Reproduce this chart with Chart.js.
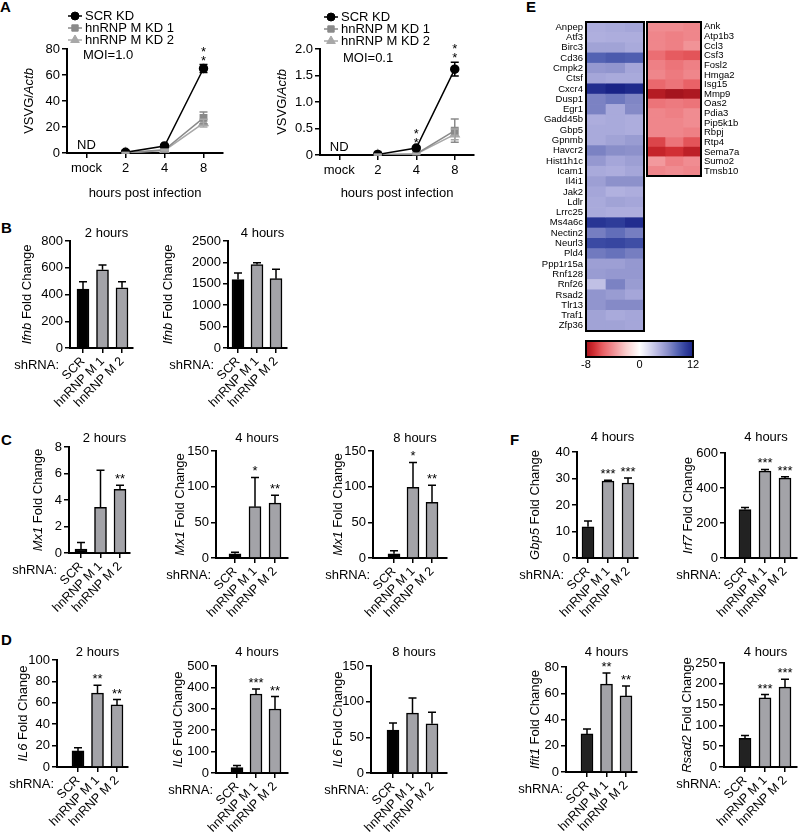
<!DOCTYPE html>
<html>
<head>
<meta charset="utf-8">
<script src="https://cdn.jsdelivr.net/npm/chart.js@4.4.1/dist/chart.umd.min.js"></script>
<style>
  body { margin: 0; width: 800px; height: 834px; position: relative; overflow: hidden; background: #fff; font-family: Arial, "Liberation Sans", sans-serif; }
  canvas { position: absolute; }
  .tag { position: absolute; font-weight: bold; font-size: 15px; line-height: 15px; }
</style>
</head>
<body>
<div class="tag" style="left:0px;top:-1px">A</div>
<div class="tag" style="left:1px;top:220px">B</div>
<div class="tag" style="left:1px;top:432px">C</div>
<div class="tag" style="left:1px;top:632px">D</div>
<div class="tag" style="left:526px;top:-1px">E</div>
<div class="tag" style="left:510px;top:432px">F</div>
<script>
const FONT = 'Arial, "Liberation Sans", Helvetica, sans-serif';
Chart.defaults.font.family = FONT;
Chart.defaults.color = '#000';
Chart.defaults.animation = false;

// ---- panel A: VSVG / Actb ----
const hours = ['mock', '2', '4', '8'];
const kdNames = ['SCR KD', 'hnRNP M KD 1', 'hnRNP M KD 2'];
const moi1Scr = [null, 0.5, 5.4, 65];
const moi1ScrSd = [null, 0.4, 0.8, 3];
const moi1Kd1 = [null, 0.1, 2.5, 27];
const moi1Kd1Sd = [null, 0.3, 0.6, 4.5];
const moi1Kd2 = [null, 0.1, 2, 23];
const moi1Kd2Sd = [null, 0.3, 0.5, 3];
const moi1Sig = [null, null, null, '*\n*'];
const moi01Scr = [null, 0.01, 0.13, 1.62];
const moi01ScrSd = [null, 0.02, 0.03, 0.13];
const moi01Kd1 = [null, 0.005, 0.02, 0.46];
const moi01Kd1Sd = [null, 0.01, 0.01, 0.22];
const moi01Kd2 = [null, 0.005, 0.02, 0.39];
const moi01Kd2Sd = [null, 0.01, 0.01, 0.1];
const moi01Sig = [null, null, '*\n*', '*\n*'];

// ---- panels B, C, D, F: fold change ----
const shLabels = ['SCR', 'hnRNP M 1', 'hnRNP M 2'];
const ifnb2h = [440, 585, 450], ifnb2hSd = [55, 35, 45];
const ifnb4h = [1600, 1950, 1620], ifnb4hSd = [150, 40, 220];
const mx1_2h = [0.3, 3.45, 4.8], mx1_2hSd = [0.5, 2.8, 0.32], mx1_2hSig = ['', '', '**'];
const mx1_4h = [6, 72, 77], mx1_4hSd = [2, 41, 11], mx1_4hSig = ['', '*', '**'];
const mx1_8h = [6, 99, 78], mx1_8hSd = [4, 35, 24], mx1_8hSig = ['', '*', '**'];
const il6_2h = [15, 69, 58], il6_2hSd = [3, 7.5, 5], il6_2hSig = ['', '**', '**'];
const il6_4h = [25, 369, 299], il6_4hSd = [10, 24, 58], il6_4hSig = ['', '***', '**'];
const il6_8h = [60, 84, 69], il6_8hSd = [10, 21, 16], il6_8hSig = ['', '', ''];
const gbp5 = [11.8, 29, 28.3], gbp5Sd = [2.2, 0.3, 1.9], gbp5Sig = ['', '***', '***'];
const irf7 = [277, 496, 456], irf7Sd = [12, 10, 8], irf7Sig = ['', '***', '***'];
const ifit1 = [29, 67, 58], ifit1Sd = [3.8, 8.4, 7.5], ifit1Sig = ['', '**', '**'];
const rsad2 = [69, 166, 192], rsad2Sd = [7, 8, 19], rsad2Sig = ['', '***', '***'];

// ---- panel E: heatmap ----
const leftGenes = ['Anpep','Atf3','Birc3','Cd36','Cmpk2','Ctsf','Cxcr4','Dusp1','Egr1','Gadd45b','Gbp5','Gpnmb','Havcr2','Hist1h1c','Icam1','Il4i1','Jak2','Ldlr','Lrrc25','Ms4a6c','Nectin2','Neurl3','Pld4','Ppp1r15a','Rnf128','Rnf26','Rsad2','Tlr13','Traf1','Zfp36'];
const leftVals = [
  [4.6,4.8,5.0],[4.5,4.6,4.6],[5.2,5.2,4.8],[8.6,9.0,8.8],[5.8,6.0,5.0],[5.0,4.8,4.8],
  [11.4,12,11.6],[7.0,7.5,6.8],[7.0,4.8,6.6],[4.6,4.8,4.6],[4.8,4.8,4.6],[4.8,5.2,5.6],
  [7.0,6.4,6.2],[5.8,5.0,5.4],[4.8,4.6,5.0],[5.4,6.2,6.2],[5.0,4.4,4.6],[4.8,5.2,5.0],
  [4.8,4.6,4.6],[11.0,10.6,11.4],[7.2,8.0,7.2],[9.8,10.0,9.6],[7.4,7.8,7.2],[5.4,5.4,5.8],
  [5.6,5.8,5.8],[3.6,7.0,5.6],[6.0,5.6,5.0],[6.0,6.6,6.6],[5.2,4.8,5.0],[5.2,5.2,5.0]
];
const rightGenes = ['Ank','Atp1b3','Ccl3','Csf3','Fosl2','Hmga2','Isg15','Mmp9','Oas2','Pdia3','Pip5k1b','Rbpj','Rtp4','Sema7a','Sumo2','Tmsb10'];
const rightVals = [
  [-4.0,-4.0,-4.2],[-4.2,-4.4,-4.2],[-4.2,-4.4,-3.8],[-5.0,-5.6,-5.8],[-4.4,-4.8,-4.4],
  [-4.2,-4.6,-4.2],[-5.2,-4.8,-5.4],[-7.6,-8.0,-7.8],[-4.8,-4.6,-4.8],[-4.2,-4.4,-4.0],
  [-4.2,-4.2,-4.0],[-4.2,-4.2,-4.4],[-6.2,-4.8,-5.8],[-7.2,-6.8,-7.4],[-3.6,-4.4,-4.0],[-4.2,-4.0,-4.2]
];
const cbTicks = [-8, 0, 12];

// colour scale for the heatmap
const posStops = [[0,[255,255,255]],[2,[222,222,242]],[4.5,[175,175,222]],[6.5,[135,140,200]],[8.5,[85,100,180]],[10,[55,70,160]],[12,[25,35,135]]];
const negStops = [[0,[255,255,255]],[2,[250,205,205]],[4,[240,140,145]],[5.5,[232,95,100]],[7,[205,40,45]],[8,[165,20,30]]];
function heatColor(v) {
  const stops = v < 0 ? negStops : posStops;
  const a = Math.abs(v);
  for (let i = 1; i < stops.length; i++) {
    if (a <= stops[i][0] || i === stops.length - 1) {
      const [v0, c0] = stops[i - 1], [v1, c1] = stops[i];
      const t = Math.min(1, Math.max(0, (a - v0) / (v1 - v0)));
      return 'rgb(' + c0.map((c, k) => Math.round(c + (c1[k] - c) * t)).join(',') + ')';
    }
  }
}

function makeCanvas(x, y, w, h) {
  const c = document.createElement('canvas');
  c.width = w; c.height = h;
  c.style.left = x + 'px'; c.style.top = y + 'px';
  document.body.appendChild(c);
  return c;
}

// error bars, stars and extra labels
const deco = {
  id: 'deco',
  afterDatasetsDraw(chart, args, o) {
    const ys = chart.scales.y;
    const ctx = chart.ctx;
    ctx.save();
    chart.data.datasets.forEach((ds, di) => {
      if (!ds.sd) return;
      const meta = chart.getDatasetMeta(di);
      meta.data.forEach((el, i) => {
        const raw = ds.data[i];
        const v = raw !== null && typeof raw === 'object' ? raw.y : raw;
        const e = ds.sd[i];
        if (v == null || e == null) return;
        const x = el.x;
        const yt = ys.getPixelForValue(v + e);
        const yb = o.twoSided ? ys.getPixelForValue(Math.max(v - e, 0)) : ys.getPixelForValue(v);
        const cw = o.cap || 4;
        ctx.strokeStyle = ds.errColor || '#000';
        ctx.lineWidth = 1.5;
        ctx.beginPath();
        ctx.moveTo(x, yt); ctx.lineTo(x, yb);
        ctx.moveTo(x - cw, yt); ctx.lineTo(x + cw, yt);
        if (o.twoSided) { ctx.moveTo(x - cw, yb); ctx.lineTo(x + cw, yb); }
        ctx.stroke();
        if (ds.sig && ds.sig[i]) {
          ctx.fillStyle = '#000';
          ctx.font = '13px ' + FONT;
          ctx.textAlign = 'center'; ctx.textBaseline = 'alphabetic';
          const lines = ds.sig[i].split('\n').reverse();
          lines.forEach((s, k) => ctx.fillText(s, x, yt + (o.sigGap !== undefined ? o.sigGap : -2) - k * 9));
        }
      });
    });
    ctx.restore();
  },
  afterDraw(chart, args, o) {
    const ctx = chart.ctx, a = chart.chartArea;
    const ox = o.ox || 0, oy = o.oy || 0;
    ctx.save();
    ctx.fillStyle = '#000';
    if (o.frame) {
      ctx.strokeStyle = '#000'; ctx.lineWidth = 2;
      ctx.strokeRect(a.left, a.top, a.right - a.left, a.bottom - a.top);
    }
    if (o.title) {
      ctx.font = '13px ' + FONT; ctx.textAlign = 'center'; ctx.textBaseline = 'middle';
      ctx.fillText(o.title.text, o.title.x - ox, o.title.y - oy);
    }
    if (o.shRNA) {
      ctx.font = '13px ' + FONT; ctx.textAlign = 'right'; ctx.textBaseline = 'middle';
      ctx.fillText('shRNA:', chart.scales.x.getPixelForValue(0) - 24, a.bottom + 17);
    }
    (o.notes || []).forEach(n => {
      ctx.font = '13px ' + FONT; ctx.textAlign = n.align || 'center'; ctx.textBaseline = 'middle';
      const x = n.i !== undefined ? chart.scales.x.getPixelForValue(n.i) : n.px - ox;
      const y = n.v !== undefined ? chart.scales.y.getPixelForValue(n.v) + (n.dy || 0) : n.py - oy;
      ctx.fillText(n.text, x, y);
    });
    if (o.legend) {
      const L = o.legend;
      chart.data.datasets.forEach((ds, i) => {
        const x = L.x - ox, y = L.y + i * L.dy - oy;
        ctx.strokeStyle = ds.borderColor; ctx.lineWidth = 1.5;
        ctx.beginPath(); ctx.moveTo(x - 7, y); ctx.lineTo(x + 7, y); ctx.stroke();
        ctx.fillStyle = ds.pointBackgroundColor; ctx.strokeStyle = ds.pointBorderColor; ctx.lineWidth = 1;
        Chart.helpers.drawPoint(ctx, {pointStyle: ds.pointStyle, radius: ds.pointRadius, rotation: 0, borderWidth: 1}, x, y);
        ctx.fillStyle = '#000'; ctx.font = '13px ' + FONT; ctx.textAlign = 'left'; ctx.textBaseline = 'middle';
        ctx.fillText(ds.label, L.tx - ox, y);
      });
    }
    if (o.yTitle) {
      const parts = o.yTitle.parts;
      const fontOf = it => (it ? 'italic ' : '') + '13px ' + FONT;
      let total = 0;
      parts.forEach(p => { ctx.font = fontOf(p[1]); total += ctx.measureText(p[0]).width; });
      ctx.translate(o.yTitle.x - ox, (a.top + a.bottom) / 2);
      ctx.rotate(-Math.PI / 2);
      ctx.fillStyle = '#000'; ctx.textAlign = 'left'; ctx.textBaseline = 'middle';
      let cx = -total / 2;
      parts.forEach(p => { ctx.font = fontOf(p[1]); ctx.fillText(p[0], cx, 0); cx += ctx.measureText(p[0]).width; });
    }
    ctx.restore();
  }
};

const axisGrid = {display: true, drawOnChartArea: false, color: '#000', lineWidth: 1.5, tickLength: 5, offset: false};
const axisBorder = {display: true, color: '#000', width: 2};
const fixX = h => sc => { sc.height = h; sc.paddingLeft = 0; sc.paddingRight = 0; };
const fixY = w => sc => { sc.width = w; sc.paddingTop = 0; sc.paddingBottom = 0; };

// bar chart with SCR + two knockdowns
function foldChart(p, gene, title, vals, sd, sig, yMax, step, scrColor) {
  const PL = 40, YW = 38, TP = 30, RP = 12, XH = 75;
  const cl = p.L - YW - PL, ct = p.top - TP;
  const cv = makeCanvas(cl, ct, PL + YW + (p.R - p.L) + RP, TP + (p.bot - p.top) + XH);
  const s = (p.c2 - p.c0) / 2;
  const xMin = -(p.c0 - p.L) / s, xMax = 2 + (p.R - p.c2) / s;
  new Chart(cv, {
    type: 'bar',
    data: {
      datasets: [{
        data: vals.map((v, i) => ({x: i, y: v})),
        sd: sd, sig: sig,
        backgroundColor: [scrColor || '#000', '#a3a3a8', '#a3a3a8'],
        borderColor: '#000', borderWidth: 1.5, barThickness: 12
      }]
    },
    options: {
      responsive: false,
      layout: {padding: {top: TP, right: RP, left: PL, bottom: 0}},
      plugins: {
        legend: {display: false}, tooltip: {enabled: false},
        deco: {ox: cl, oy: ct, title: {text: title, x: (p.L + p.R) / 2 + 5, y: p.titleY},
               yTitle: {x: p.yTitleX, parts: [[gene, true], [' Fold Change', false]]}, shRNA: true}
      },
      scales: {
        x: {
          type: 'linear', min: xMin, max: xMax, offset: false,
          afterFit: fixX(XH),
          afterBuildTicks: sc => { sc.ticks = shLabels.map((l, i) => ({value: i})); },
          ticks: {callback: v => shLabels[v], autoSkip: false, minRotation: 45, maxRotation: 45, font: {size: 12.5}, color: '#000', padding: 1},
          grid: axisGrid, border: axisBorder
        },
        y: {
          min: 0, max: yMax,
          afterFit: fixY(YW),
          ticks: {stepSize: step, font: {size: 13}, color: '#000', padding: 2, callback: v => String(v)},
          grid: axisGrid, border: axisBorder
        }
      }
    },
    plugins: [deco]
  });
}

// VSVG time course
function vsvgChart(p, sets, yMax, step, moi, tickFmt) {
  const YW = 55, RP = 10;
  const cl = p.L - YW, ct = 0;
  const TP = p.top - ct;
  const cv = makeCanvas(cl, ct, YW + (p.R - p.L) + RP, TP + (p.bot - p.top) + p.xh);
  const styles = [
    {color: '#000', pointStyle: 'circle', pointRadius: 4},
    {color: '#8a8a8a', pointStyle: 'rect', pointRadius: 4.5},
    {color: '#a8a8a8', pointStyle: 'triangle', pointRadius: 5}
  ];
  new Chart(cv, {
    type: 'line',
    data: {
      labels: hours,
      datasets: sets.map((s, i) => ({
        label: kdNames[i], data: s.data, sd: s.sd, sig: s.sig,
        borderColor: styles[i].color, backgroundColor: styles[i].color,
        pointBackgroundColor: styles[i].color, pointBorderColor: styles[i].color,
        errColor: styles[i].color,
        pointStyle: styles[i].pointStyle, pointRadius: styles[i].pointRadius,
        borderWidth: 1.5, tension: 0
      }))
    },
    options: {
      responsive: false,
      layout: {padding: {top: TP, right: RP, left: 0, bottom: 0}},
      plugins: {
        legend: {display: false}, tooltip: {enabled: false},
        deco: {
          ox: cl, oy: ct, twoSided: true, cap: 4, sigGap: 0,
          legend: {x: p.legX, tx: p.legX + 10, y: p.legY, dy: 12},
          yTitle: {x: p.yTitleX, parts: [['VSVG/', false], ['Actb', true]]},
          notes: [{text: 'ND', i: 0, v: 0, dy: -8}, {text: moi, px: p.moiX, py: p.moiY, align: 'left'}]
        }
      },
      scales: {
        x: {
          offset: true,
          afterFit: fixX(p.xh),
          ticks: {font: {size: 13}, color: '#000', padding: 3, maxRotation: 0},
          title: {display: true, text: 'hours post infection', font: {size: 13}, padding: {top: 4, bottom: 0}, color: '#000'},
          grid: axisGrid, border: axisBorder
        },
        y: {
          min: 0, max: yMax,
          afterFit: fixY(YW),
          ticks: {stepSize: step, font: {size: 13}, color: '#000', padding: 2, callback: tickFmt || (v => String(v))},
          grid: axisGrid, border: axisBorder
        }
      }
    },
    plugins: [deco]
  });
}

// heatmap block: one stacked segment per sample column
function heatBlock(genes, vals, x, y, w, h, side) {
  const YW = side === 'left' ? 70 : 62;
  const cl = side === 'left' ? x - YW : x - 2;
  const cv = makeCanvas(cl, y - 2, w + YW + 2, h + 4);
  new Chart(cv, {
    type: 'bar',
    data: {
      labels: genes,
      datasets: [0, 1, 2].map(k => ({
        data: genes.map(() => 1),
        backgroundColor: vals.map(r => heatColor(r[k])),
        borderWidth: 0, barPercentage: 1, categoryPercentage: 1
      }))
    },
    options: {
      indexAxis: 'y', responsive: false,
      layout: {padding: {left: side === 'left' ? 0 : 2, right: side === 'left' ? 2 : 0, top: 2, bottom: 2}},
      plugins: {legend: {display: false}, tooltip: {enabled: false}, deco: {frame: true}},
      scales: {
        x: {stacked: true, display: false, min: 0, max: 3},
        y: {
          stacked: true, position: side,
          afterFit: fixY(YW),
          grid: {display: false, drawTicks: false}, border: {display: false},
          ticks: {font: {size: 9.5}, color: '#000', padding: 3, autoSkip: false}
        }
      }
    },
    plugins: [deco]
  });
}

function colorBar() {
  const cv = makeCanvas(572, 339, 135, 34);
  new Chart(cv, {
    type: 'bar',
    data: {
      labels: [''],
      datasets: [{
        data: [[0, cbTicks.length - 1]],
        backgroundColor: c => {
          const a = c.chart.chartArea;
          if (!a) return '#fff';
          const g = c.chart.ctx.createLinearGradient(a.left, 0, a.right, 0);
          for (let i = 0; i <= 40; i++) {
            const t = i / 40;
            const v = t < 0.5 ? cbTicks[0] * (1 - 2 * t) : cbTicks[2] * (2 * t - 1);
            g.addColorStop(t, heatColor(v));
          }
          return g;
        },
        borderWidth: 0, barPercentage: 1, categoryPercentage: 1
      }]
    },
    options: {
      indexAxis: 'y', responsive: false,
      layout: {padding: {left: 14, right: 14, top: 2, bottom: 0}},
      plugins: {legend: {display: false}, tooltip: {enabled: false}, deco: {frame: true}},
      scales: {
        y: {display: false},
        x: {
          min: 0, max: cbTicks.length - 1,
          afterBuildTicks: sc => { sc.ticks = cbTicks.map((t, i) => ({value: i})); },
          afterFit: fixX(16),
          ticks: {callback: v => String(cbTicks[v]), font: {size: 11}, color: '#000', padding: 1, autoSkip: false, maxRotation: 0},
          grid: {display: false, drawTicks: false}, border: {display: false}
        }
      }
    },
    plugins: [deco]
  });
}

// A
vsvgChart({L: 67, R: 223, top: 49, bot: 153, xh: 48, legX: 75, legY: 16, yTitleX: 29, moiX: 83, moiY: 55},
  [{data: moi1Scr, sd: moi1ScrSd, sig: moi1Sig}, {data: moi1Kd1, sd: moi1Kd1Sd}, {data: moi1Kd2, sd: moi1Kd2Sd}],
  80, 20, 'MOI=1.0');
vsvgChart({L: 320, R: 474, top: 49, bot: 155, xh: 46, legX: 331, legY: 17, yTitleX: 282, moiX: 343, moiY: 58},
  [{data: moi01Scr, sd: moi01ScrSd, sig: moi01Sig}, {data: moi01Kd1, sd: moi01Kd1Sd}, {data: moi01Kd2, sd: moi01Kd2Sd}],
  2, 0.5, 'MOI=0.1', v => v === 0 ? '0' : v.toFixed(1));

// B
foldChart({L: 70, R: 133, top: 241, bot: 348, c0: 83, c2: 122, titleY: 233, yTitleX: 27}, 'Ifnb', '2 hours', ifnb2h, ifnb2hSd, null, 800, 200);
foldChart({L: 228, R: 287, top: 241, bot: 348, c0: 238, c2: 276, titleY: 233, yTitleX: 168}, 'Ifnb', '4 hours', ifnb4h, ifnb4hSd, null, 2500, 500);

// C
foldChart({L: 69, R: 130, top: 447, bot: 553, c0: 81, c2: 120, titleY: 438, yTitleX: 38}, 'Mx1', '2 hours', mx1_2h, mx1_2hSd, mx1_2hSig, 8, 2);
foldChart({L: 216, R: 288, top: 451, bot: 558, c0: 235, c2: 275, titleY: 438, yTitleX: 180}, 'Mx1', '4 hours', mx1_4h, mx1_4hSd, mx1_4hSig, 150, 50);
foldChart({L: 373, R: 447, top: 451, bot: 558, c0: 394, c2: 432, titleY: 438, yTitleX: 338}, 'Mx1', '8 hours', mx1_8h, mx1_8hSd, mx1_8hSig, 150, 50);

// D
foldChart({L: 57, R: 128, top: 660, bot: 767, c0: 78, c2: 117, titleY: 652, yTitleX: 23}, 'IL6', '2 hours', il6_2h, il6_2hSd, il6_2hSig, 100, 20);
foldChart({L: 216, R: 288, top: 666, bot: 773, c0: 237, c2: 275, titleY: 652, yTitleX: 178}, 'IL6', '4 hours', il6_4h, il6_4hSd, il6_4hSig, 500, 100);
foldChart({L: 371, R: 447, top: 666, bot: 773, c0: 393, c2: 432, titleY: 652, yTitleX: 338}, 'IL6', '8 hours', il6_8h, il6_8hSd, il6_8hSig, 150, 50);

// F
foldChart({L: 577, R: 638, top: 452, bot: 558, c0: 588, c2: 628, titleY: 437, yTitleX: 535}, 'Gbp5', '4 hours', gbp5, gbp5Sd, gbp5Sig, 40, 10, '#222');
foldChart({L: 725, R: 797, top: 453, bot: 558, c0: 745, c2: 785, titleY: 437, yTitleX: 688}, 'Irf7', '4 hours', irf7, irf7Sd, irf7Sig, 600, 200, '#222');
foldChart({L: 566, R: 637, top: 667, bot: 772, c0: 587, c2: 626, titleY: 652, yTitleX: 535}, 'Ifit1', '4 hours', ifit1, ifit1Sd, ifit1Sig, 80, 20, '#222');
foldChart({L: 724, R: 797, top: 663, bot: 767, c0: 745, c2: 785, titleY: 652, yTitleX: 687}, 'Rsad2', '4 hours', rsad2, rsad2Sd, rsad2Sig, 250, 50, '#222');

// E
heatBlock(leftGenes, leftVals, 586, 22, 58, 309, 'left');
heatBlock(rightGenes, rightVals, 647, 22, 54, 154, 'right');
colorBar();
</script>
</body>
</html>
